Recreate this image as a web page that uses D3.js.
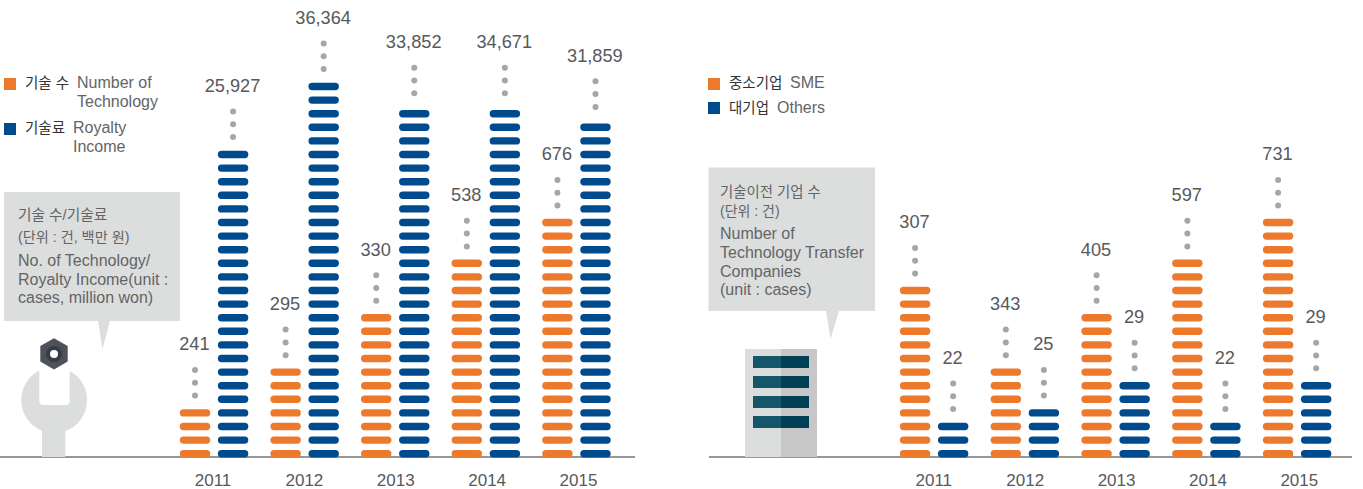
<!DOCTYPE html>
<html>
<head>
<meta charset="utf-8">
<script src="https://cdnjs.cloudflare.com/ajax/libs/d3/7.8.5/d3.min.js"></script>
<style>
html, body { margin: 0; padding: 0; background: #fff; }
svg { display: block; }
text { font-family: "Liberation Sans", "Noto Sans CJK KR", sans-serif; fill: #58595b; }
</style>
</head>
<body>
<div id="chart"></div>
<script>
var years = ['2011', '2012', '2013', '2014', '2015'];

// printed numbers
var techCount = ['241', '295', '330', '538', '676'];
var royalty = ['25,927', '36,364', '33,852', '34,671', '31,859'];
var sme = ['307', '343', '405', '597', '731'];
var others = ['22', '25', '29', '22', '29'];

// dashes in each column, counted on the picture (axis is broken, so not proportional)
var techDashes = [4, 7, 11, 15, 18];
var royaltyDashes = [23, 28, 26, 26, 25];
var smeDashes = [13, 7, 11, 15, 18];
var othersDashes = [3, 4, 6, 3, 6];

var orange = '#ed792d', blue = '#004b8d', grey = '#a5a6a8', panel = '#dcdedd';

var svg = d3.select('#chart').append('svg')
    .attr('width', 1363)
    .attr('height', 489);

var y = d3.scaleLinear().domain([0, 28]).range([457, 76.2]);

function drawPanel(cfg) {
    var x = d3.scaleBand().domain(years).range(cfg.range);
    var sub = d3.scaleBand().domain([0, 1]).range([-34.25, 34.25]).paddingInner(0.2);

    var g = svg.append('g');

    g.append('line')
        .attr('x1', cfg.line[0]).attr('x2', cfg.line[1])
        .attr('y1', y(0)).attr('y2', y(0))
        .attr('stroke', '#333').attr('stroke-width', 1.2);

    cfg.series.forEach(function (s, si) {
        years.forEach(function (yr, i) {
            var cx = x(yr) + x.bandwidth() / 2 + sub(si);
            var col = g.append('g').attr('transform', 'translate(' + cx + ',0)');
            var n = s.dashes[i];

            col.selectAll('rect')
                .data(d3.range(n))
                .enter()
                .append('rect')
                .attr('y', function (d) { return y(d) - 7; })
                .attr('width', sub.bandwidth())
                .attr('height', 7.4)
                .attr('rx', 3.7)
                .attr('fill', s.color);

            // the dots do not sit at the same distance above every column
            var top = y(n - 1) - 7 - s.lift[i];
            col.selectAll('circle')
                .data([13.7, 26.5, 39.3])
                .enter()
                .append('circle')
                .attr('cx', sub.bandwidth() / 2)
                .attr('cy', function (d) { return top - d; })
                .attr('r', 3)
                .attr('fill', grey);

            col.append('text')
                .attr('x', sub.bandwidth() / 2 - 0.6)
                .attr('y', top - 59)
                .attr('text-anchor', 'middle')
                .style('font-size', '18.2px')
                .text(s.labels[i]);
        });
    });

    var yearX = d3.scalePoint().domain(years).range(cfg.yearRange);
    var ag = g.append('g')
        .attr('transform', 'translate(0,472)')
        .call(d3.axisBottom(yearX).tickSize(0).tickPadding(0));
    ag.select('.domain').remove();
    ag.selectAll('text')
        .attr('dy', null)
        .attr('y', 14)
        .attr('fill', null)
        .style('font-size', '17px')
        .style('font-family', null);
}

drawPanel({
    range: [168.75, 621.75],
    yearRange: [212.5, 578],
    line: [0, 635],
    series: [
        { dashes: techDashes, labels: techCount, color: orange, lift: [0, -0.5, -0.5, -0.5, -0.5] },
        { dashes: royaltyDashes, labels: royalty, color: blue, lift: [0, 0, 3, 3, 3] }
    ]
});

drawPanel({
    range: [888.75, 1342.5],
    yearRange: [933.3, 1298.8],
    line: [709, 1352],
    series: [
        { dashes: smeDashes, labels: sme, color: orange, lift: [-0.5, -0.5, -0.5, -0.5, -0.5] },
        { dashes: othersDashes, labels: others, color: blue, lift: [0, 0, 0, 0, 0] }
    ]
});

function label(x, yPos, str, size, color) {
    return svg.append('text')
        .attr('x', x).attr('y', yPos)
        .style('font-size', size + 'px')
        .style('fill', color || '#636466')
        .text(str);
}

// legends
function legendKey(x, yPos, color) {
    svg.append('rect').attr('x', x).attr('y', yPos).attr('width', 12).attr('height', 12).attr('fill', color);
}
legendKey(4, 78, orange);
label(25, 88, '기술 수', 14.5, '#333');
label(77, 88, 'Number of', 16);
label(77, 107, 'Technology', 16);
legendKey(4, 123, blue);
label(25, 133, '기술료', 14.5, '#333');
label(73, 133, 'Royalty', 16);
label(73, 152, 'Income', 16);

legendKey(708, 78, orange);
label(729, 88, '중소기업', 14.5, '#333');
label(790, 88, 'SME', 16);
legendKey(708, 102, blue);
label(729, 113, '대기업', 14.5, '#333');
label(777, 113, 'Others', 16);

// callouts
svg.append('path').attr('d', 'M4,192H180V321H110L102.5,349L98,321H4Z').attr('fill', panel);
label(18, 220, '기술 수/기술료', 14.7);
label(18, 242, '(단위 : 건, 백만 원)', 14.2);
label(18, 266, 'No. of Technology/', 16);
label(18, 285, 'Royalty Income(unit :', 16);
label(18, 303, 'cases, million won)', 16);

svg.append('path').attr('d', 'M708.5,167.5H875V311H839L830.5,339L826,311H708.5Z').attr('fill', panel);
label(720, 197, '기술이전 기업 수', 14.4);
label(720, 216, '(단위 : 건)', 14);
label(720, 239, 'Number of', 16);
label(720, 258, 'Technology Transfer', 16);
label(720, 277, 'Companies', 16);
label(720, 295, '(unit : cases)', 16);

// wrench and nut
svg.append('path')
    .attr('d', 'M39.3,370.6A33,33,0,0,0,42,430.7V457H65.3V431A33,33,0,0,0,69.7,370.9V401Q69.7,405,65.7,405H43.3Q39.3,405,39.3,401Z')
    .attr('fill', panel);
svg.append('path').attr('d', 'M54,338.3L67.7,346.1V361.6L54,369.4L40.3,361.6V346.1Z').attr('fill', '#4d5159');
svg.append('circle').attr('cx', 54).attr('cy', 354).attr('r', 8).attr('fill', '#373c45');
svg.append('circle').attr('cx', 54).attr('cy', 354).attr('r', 4).attr('fill', '#fff');

// building
svg.append('rect').attr('x', 745).attr('y', 349).attr('width', 36).attr('height', 108).attr('fill', panel);
svg.append('rect').attr('x', 781).attr('y', 349).attr('width', 36).attr('height', 108).attr('fill', '#c6c7c6');
[356, 376, 396, 416].forEach(function (wy) {
    svg.append('rect').attr('x', 753).attr('y', wy).attr('width', 28).attr('height', 12).attr('fill', '#16566b');
    svg.append('rect').attr('x', 781).attr('y', wy).attr('width', 28).attr('height', 12).attr('fill', '#003f54');
});
</script>
</body>
</html>
